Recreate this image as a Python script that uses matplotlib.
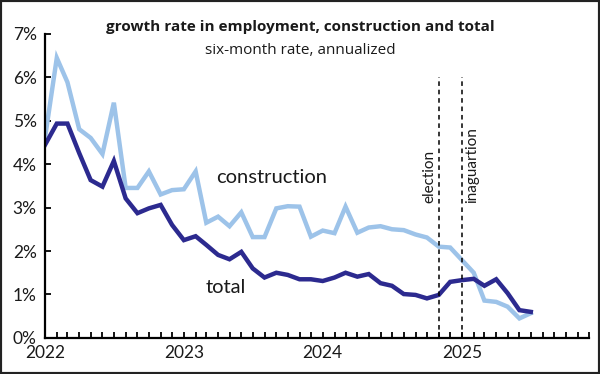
import matplotlib
matplotlib.use("Agg")
import matplotlib.pyplot as plt
import matplotlib.dates as mdates
import pandas as pd
from matplotlib import font_manager
from matplotlib.patches import Rectangle

# monthly, Jan 2022 .. Jul 2025
months = pd.date_range("2022-01-01", "2025-07-01", freq="MS")

construction = [4.6, 6.44, 5.88, 4.8, 4.6, 4.23, 5.41, 3.45, 3.45, 3.83,
                3.3, 3.4, 3.42, 3.83, 2.65, 2.79, 2.57, 2.89, 2.32, 2.32,
                2.98, 3.03, 3.02, 2.33, 2.47, 2.41, 3.02, 2.42, 2.54, 2.57,
                2.5, 2.48, 2.38, 2.31, 2.1, 2.08, 1.79, 1.5, 0.86, 0.83,
                0.72, 0.45, 0.57]
total = [4.44, 4.93, 4.93, 4.25, 3.63, 3.48, 4.07, 3.21, 2.87, 2.98,
         3.06, 2.6, 2.25, 2.34, 2.14, 1.91, 1.81, 1.98, 1.6, 1.39,
         1.5, 1.45, 1.35, 1.35, 1.31, 1.39, 1.5, 1.41, 1.47, 1.26,
         1.2, 1.01, 0.99, 0.91, 0.99, 1.29, 1.33, 1.36, 1.2, 1.35,
         1.03, 0.64, 0.6]

events = [("election", pd.Timestamp("2024-11-01")),
          ("inaguartion", pd.Timestamp("2025-01-01"))]

names = {f.name for f in font_manager.fontManager.ttflist}
narrow = "Liberation Sans Narrow" if "Liberation Sans Narrow" in names else "Open Sans"
body = "Lato"
ink = "#1a1a1a"

light = "#9dc3e9"
dark = "#2c2a8f"

fig = plt.figure(figsize=(6, 3.74), dpi=100)
ax = fig.add_axes([0.075, 0.0963, 0.9067, 0.814])

ax.plot(months, construction, color=light, lw=3.2, solid_joinstyle="miter")
ax.plot(months, total, color=dark, lw=3.2, solid_joinstyle="miter")

for name, d in events:
    ax.plot([d, d], [0, 6], color="black", lw=1.1, ls=(0, (3, 2.5)))
ax.text(events[0][1] - pd.Timedelta(days=7), 3.1, events[0][0], rotation=90,
        ha="right", va="bottom", fontsize=11, family=body, color=ink)
ax.text(events[1][1] + pd.Timedelta(days=8), 3.1, events[1][0], rotation=90,
        ha="left", va="bottom", fontsize=11, family=body, color=ink)

ax.text(pd.Timestamp("2023-03-28"), 3.69, "construction", fontsize=14.5,
        family=body, va="center", color=ink)
ax.text(pd.Timestamp("2023-02-28"), 1.15, "total", fontsize=14.5,
        family=body, va="center", color=ink)

ax.set_ylim(0, 7)
ax.set_xlim(pd.Timestamp("2022-01-01"), pd.Timestamp("2025-12-01"))
ax.set_yticks(range(0, 8))
ax.set_yticklabels([f"{v}%" for v in range(0, 8)])
ax.xaxis.set_major_locator(mdates.YearLocator())
ax.xaxis.set_major_formatter(mdates.DateFormatter("%Y"))
ax.xaxis.set_minor_locator(mdates.MonthLocator())
ax.tick_params(axis="both", which="both", direction="in", length=4, width=1.3,
               labelsize=12.5, labelcolor=ink)
ax.tick_params(axis="x", which="both", pad=5)
ax.tick_params(axis="y", which="both", pad=6)
for lab in ax.get_xticklabels() + ax.get_yticklabels():
    lab.set_family(body)
for s in ["top", "right"]:
    ax.spines[s].set_visible(False)
for s in ["left", "bottom"]:
    ax.spines[s].set_linewidth(1.6)

fig.text(0.5, 1 - 27 / 374, "growth rate in employment, construction and total",
         ha="center", va="center", fontsize=11, fontweight="bold", family=narrow,
         color=ink)
fig.text(0.5, 1 - 50 / 374, "six-month rate, annualized", ha="center",
         va="center", fontsize=11, family=narrow, color=ink)

fig.patches.append(Rectangle((0, 0), 1, 1, transform=fig.transFigure,
                             fill=False, edgecolor="#222222", lw=3))

fig.savefig("out.png", dpi=100)
